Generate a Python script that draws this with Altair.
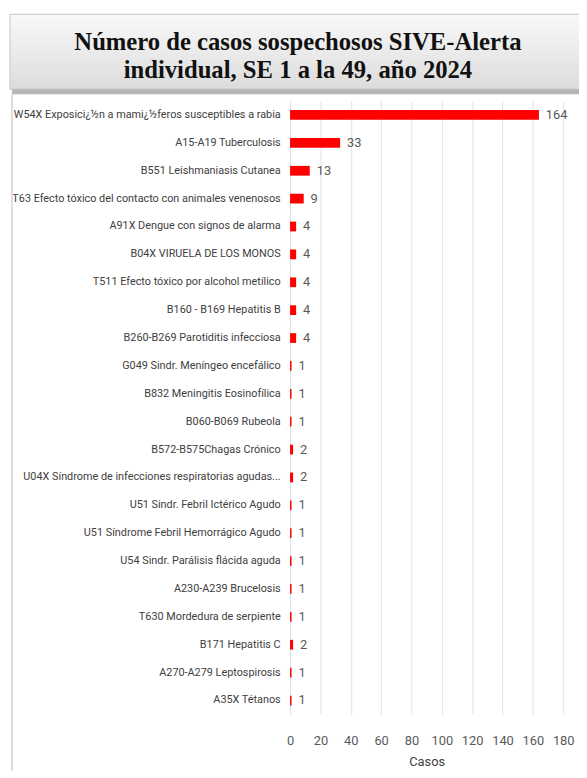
import altair as alt
import pandas as pd

categories = [
    "W54X Exposici¿½n a mami¿½feros susceptibles a rabia",
    "A15-A19 Tuberculosis",
    "B551 Leishmaniasis Cutanea",
    "T63 Efecto tóxico del contacto con animales venenosos",
    "A91X Dengue con signos de alarma",
    "B04X VIRUELA DE LOS MONOS",
    "T511 Efecto tóxico por alcohol metílico",
    "B160 - B169 Hepatitis B",
    "B260-B269 Parotiditis infecciosa",
    "G049 Sindr. Meníngeo encefálico",
    "B832 Meningitis Eosinofílica",
    "B060-B069 Rubeola",
    "B572-B575Chagas Crónico",
    "U04X Síndrome de infecciones respiratorias agudas...",
    "U51 Sindr. Febril Ictérico Agudo",
    "U51 Síndrome Febril Hemorrágico Agudo",
    "U54 Sindr. Parálisis flácida aguda",
    "A230-A239 Brucelosis",
    "T630 Mordedura de serpiente",
    "B171 Hepatitis C",
    "A270-A279 Leptospirosis",
    "A35X Tétanos",
]
casos = [164, 33, 13, 9, 4, 4, 4, 4, 4, 1, 1, 1, 2, 2, 1, 1, 1, 1, 1, 2, 1, 1]
x_ticks = [0, 20, 40, 60, 80, 100, 120, 140, 160, 180]
title_lines = ["Número de casos sospechosos SIVE-Alerta", "individual, SE 1 a la 49, año 2024"]

df = pd.DataFrame({"categoria": categories, "casos": casos})
one = pd.DataFrame({"a": [0]})

LABEL_FONT = "Roboto"

y_enc = alt.Y(
    "categoria:N",
    sort=categories,
    scale=alt.Scale(paddingInner=0.65, paddingOuter=0.325),
    axis=alt.Axis(
        title=None, domain=False, ticks=False, grid=False,
        labelPadding=10, labelFont=LABEL_FONT, labelFontSize=11,
        labelColor="#404040", labelLimit=400,
    ),
)
x_enc = alt.X(
    "casos:Q",
    scale=alt.Scale(domain=[0, 180], nice=False),
    axis=alt.Axis(
        values=x_ticks, title="Casos", domain=False, ticks=False,
        grid=True, gridColor="#e0e0e0", gridWidth=1, labelOverlap=False,
        labelFlush=False, labelSeparation=0,
        labelPadding=20, labelFont=LABEL_FONT, labelFontSize=13,
        labelColor="#595959", titleFont=LABEL_FONT, titleFontSize=13,
        titleFontWeight="normal", titleColor="#404040", titlePadding=9,
    ),
)

box = alt.Chart(one).mark_rect(
    color={
        "gradient": "linear", "x1": 0, "y1": 0, "x2": 0, "y2": 1,
        "stops": [
            {"offset": 0, "color": "#f9f9f9"},
            {"offset": 1, "color": "#dcdcdc"},
        ],
    },
    stroke="#c4c4c4", strokeWidth=1, clip=False,
).encode(x=alt.value(-284), x2=alt.value(300), y=alt.value(-88), y2=alt.value(-12))

shadow = alt.Chart(one).mark_rect(color="#b5b5b5", clip=False).encode(
    x=alt.value(-282), x2=alt.value(300), y=alt.value(-12), y2=alt.value(-7)
)

frame = alt.Chart(one).mark_rule(color="#dddddd", strokeWidth=2, clip=False).encode(
    x=alt.value(-282), y=alt.value(-7), y2=alt.value(700)
)

title = alt.Chart(one).mark_text(
    text=title_lines, align="center", baseline="middle", lineHeight=29,
    font="Liberation Serif", fontSize=25, fontWeight="bold", color="#111111", clip=False,
).encode(x=alt.value(8), y=alt.value(-60))

bars = alt.Chart(df).mark_bar(color="#ff0000").encode(y=y_enc, x=x_enc)

labels = alt.Chart(df).mark_text(
    align="left", baseline="middle", dx=7, font=LABEL_FONT, fontSize=13, color="#595959"
).encode(y=y_enc, x=x_enc, text="casos:Q")

chart = alt.layer(box, shadow, frame, title, bars, labels).properties(
    width=277,
    height=622,
    background="white",
    autosize=alt.AutoSizeParams(type="none"),
    padding={"left": 286, "top": 89, "right": 16, "bottom": 52},
).configure_view(stroke=None, strokeWidth=0).configure_axis(labelOverlap=False)

chart.save("out.html", embed_options={"renderer": "svg", "actions": False})
